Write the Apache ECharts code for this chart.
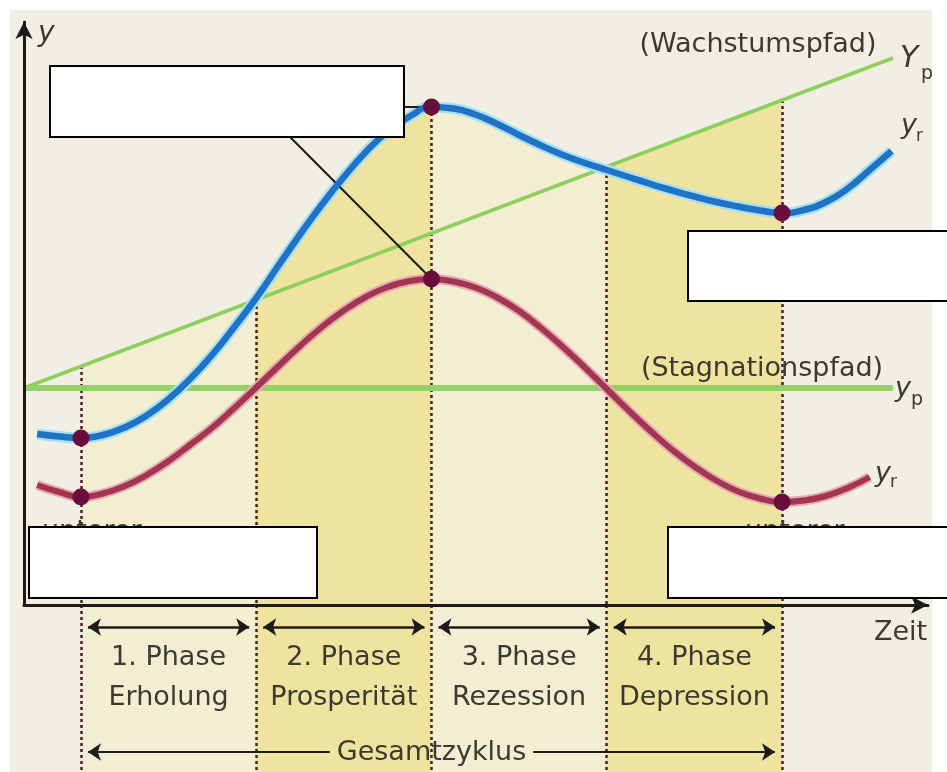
<!DOCTYPE html>
<html><head><meta charset="utf-8">
<script src="https://cdn.jsdelivr.net/npm/echarts@6/dist/echarts.min.js"></script>
<style>html,body{margin:0;padding:0;background:#fff}#c{width:947px;height:772px}</style>
</head><body><div id="c"></div>
<script>
// ---- data (time in phase units: turning points at t = 1..5) ----
const phaseBounds = [1, 2, 3, 4, 5];
const phaseTitles = ['1. Phase', '2. Phase', '3. Phase', '4. Phase'];
const phaseNames = ['Erholung', 'Prosperität', 'Rezession', 'Depression'];
const cycleLabel = 'Gesamtzyklus';
const timeLabel = 'Zeit';
const yLabel = 'y';
const troughLabel = 'unterer';
const growthPathLabel = '(Wachstumspfad)';
const stagnationPathLabel = '(Stagnationspfad)';

// time samples (every 1/8 phase)
const blueT = [0.75,0.875,1,1.125,1.25,1.375,1.5,1.625,1.75,1.875,2,2.125,2.25,2.375,2.5,2.625,2.75,2.875,3,
  3.125,3.25,3.375,3.5,3.625,3.75,3.875,4,4.125,4.25,4.375,4.5,4.625,4.75,4.875,5,5.125,5.25,5.375,5.5,5.625];
// real output along the growth path (blue)
const blueY = [34.2,33.7,33.4,34.0,35.5,37.9,41.2,45.3,50.1,55.6,61.4,67.8,74.1,80.1,85.6,90.6,94.7,97.7,99.6,
  99.3,98.1,96.2,94.0,91.9,90.0,88.4,87.0,85.6,84.2,82.9,81.7,80.6,79.7,78.9,78.4,79.0,80.6,83.3,87.0,90.8];
const redT = [0.75,0.875,1,1.125,1.25,1.375,1.5,1.625,1.75,1.875,2,2.125,2.25,2.375,2.5,2.625,2.75,2.875,3,
  3.125,3.25,3.375,3.5,3.625,3.75,3.875,4,4.125,4.25,4.375,4.5,4.625,4.75,4.875,5,5.125,5.25,5.375,5.5];
// real output along the stagnation path (red)
const redY = [24.0,22.6,21.6,22.3,23.8,26.0,28.8,32.1,35.5,39.4,43.5,47.7,51.8,55.6,58.9,61.6,63.6,64.8,65.2,
  64.7,63.5,61.5,58.8,55.4,51.6,47.5,43.2,38.9,34.8,31.0,27.7,24.9,22.7,21.3,20.6,20.9,21.8,23.4,25.6];
const pathT = [0.675, 5.633];
const growthPathY = [43.4, 109.4];
const stagnationPathY = [43.4, 43.4];
const turnT = [1, 3, 5];
const blueTurnY = [33.4, 99.6, 78.4];
const redTurnY = [21.6, 65.2, 20.6];
const dropTopY = [47.8, 61, 99.6, 87.2, 101];

// ---- styles ----
const C = {
  bg: '#f1efe3', strong: '#efe49f', light: '#f3eed2', clear: 'rgba(0,0,0,0)',
  green: '#8ccf5c', green2: '#94d267', blue: '#1f72c4', blueHalo: '#a6e0f5',
  red: '#a2354f', redHalo: '#e6a8b5', dot: '#6a0c3c', drop: '#4e1d25',
  ink: '#3a3a30', axis: '#1b1b1b'
};
const FONT = '"DejaVu Sans", sans-serif';
const zip = (a, b) => a.map((v, i) => [v, b[i]]);
const xMin = 0.675, xMax = 5.833;
const SM = 0.5;

const dropLines0 = phaseBounds.map((t, i) => [{coord: [t, dropTopY[i]]}, {coord: [t, 0]}]);
const dotStyle = {type: [3, 3], color: C.drop, width: 2.5};
const arrowY = 22, cycleY = 147, labelY = 73;
const lower = [];
phaseBounds.forEach(t => lower.push([{coord: [t, 0], symbol: 'none'}, {coord: [t, 167], symbol: 'none', lineStyle: dotStyle}]));
for (let i = 0; i < 4; i++) {
  lower.push([{coord: [phaseBounds[i] + 0.04, arrowY], symbol: 'arrow'}, {coord: [phaseBounds[i + 1] - 0.04, arrowY], symbol: 'arrow', lineStyle: {color: C.axis, width: 2.5, type: 'solid'}}]);
}
lower.push([{coord: [phaseBounds[0] + 0.04, cycleY], symbol: 'arrow'}, {coord: [2.42, cycleY], symbol: 'none', lineStyle: {color: C.axis, width: 2, type: 'solid'}}]);
lower.push([{coord: [3.58, cycleY], symbol: 'none'}, {coord: [phaseBounds[4] - 0.04, cycleY], symbol: 'arrow', lineStyle: {color: C.axis, width: 2, type: 'solid'}}]);

const bands = [];
for (let i = 0; i < 4; i++) {
  bands.push([{coord: [phaseBounds[i], 0], itemStyle: {color: i % 2 ? C.strong : C.light}}, {coord: [phaseBounds[i + 1], 167]}]);
}
const phaseLabelData = phaseTitles.map((s, i) => ({
  value: [(phaseBounds[i] + phaseBounds[i + 1]) / 2, labelY], name: s + '\n' + phaseNames[i]
}));
phaseLabelData.push({value: [(phaseBounds[0] + phaseBounds[4]) / 2, cycleY + 1], name: cycleLabel});

const txt = (text, x, y, size, align, italic) => ({
  type: 'text', z: 50, silent: true,
  style: {text, x, y, fill: C.ink, font: (italic ? 'italic ' : '') + size + 'px ' + FONT,
    align: align || 'left', textAlign: align || 'left', verticalAlign: 'middle', textVerticalAlign: 'middle'}
});
const box = (x, y, w, h) => ({type: 'rect', z: 100, silent: true, shape: {x, y, width: w, height: h},
  style: {fill: '#ffffff', stroke: '#000000', lineWidth: 2}});

const chart = echarts.init(document.getElementById('c'), null, {renderer: 'canvas'});
chart.setOption({
  animation: false,
  backgroundColor: '#ffffff',
  grid: [
    {left: 24, right: 19, top: 22, bottom: 167},
    {left: 24, right: 19, top: 605, bottom: 0}
  ],
  xAxis: [
    {type: 'value', gridIndex: 0, min: xMin, max: xMax, z: 10, splitLine: {show: false}, axisTick: {show: false}, axisLabel: {show: false},
     axisLine: {show: true, onZero: false, symbol: ['none', 'arrow'], symbolSize: [13, 17], lineStyle: {color: C.axis, width: 3}},
     name: timeLabel, nameLocation: 'end', nameGap: -54,
     nameTextStyle: {color: C.ink, fontSize: 27, fontFamily: FONT, verticalAlign: 'top', align: 'left', padding: [14, 0, 0, 0]}},
    {type: 'value', gridIndex: 1, min: xMin, max: xMax, show: false}
  ],
  yAxis: [
    {type: 'value', gridIndex: 0, min: 0, max: 116.6, z: 10, splitLine: {show: false}, axisTick: {show: false}, axisLabel: {show: false},
     axisLine: {show: true, onZero: false, symbol: ['none', 'arrow'], symbolSize: [13, 17], lineStyle: {color: C.axis, width: 3}},
     name: yLabel, nameLocation: 'end', nameGap: -12,
     nameTextStyle: {color: C.ink, fontSize: 28, fontStyle: 'italic', fontFamily: FONT, align: 'left', verticalAlign: 'middle', padding: [0, 0, 0, 14]}},
    {type: 'value', gridIndex: 1, min: 0, max: 167, inverse: true, show: false}
  ],
  visualMap: [
    {type: 'piecewise', show: false, seriesIndex: 0, dimension: 0,
     pieces: [{gte: 2, lt: 3, color: C.strong}, {gte: 3, lte: 4, color: C.light}], outOfRange: {color: C.clear}},
    {type: 'piecewise', show: false, seriesIndex: 1, dimension: 0,
     pieces: [{gte: 1, lt: 2, color: C.light}, {gte: 4, lte: 5, color: C.strong}], outOfRange: {color: C.clear}}
  ],
  series: [
    {type: 'line', name: 'fillReal', z: 1, silent: true, smooth: SM, symbol: 'none', data: zip(blueT, blueY),
     lineStyle: {width: 0}, areaStyle: {opacity: 1, origin: 'start'}},
    {type: 'line', name: 'fillPath', z: 1, silent: true, symbol: 'none', data: zip(pathT, growthPathY),
     lineStyle: {width: 0}, areaStyle: {opacity: 1, origin: 'start'}},
    {type: 'line', name: 'Wachstumspfad', z: 3, silent: true, symbol: 'none', data: zip(pathT, growthPathY),
     lineStyle: {color: C.green, width: 3.5},
     markLine: {silent: true, symbol: ['none', 'none'], label: {show: false}, lineStyle: dotStyle, data: dropLines0, z: 3}},
    {type: 'line', name: 'Stagnationspfad', z: 3, silent: true, symbol: 'none', data: zip(pathT, stagnationPathY),
     lineStyle: {color: C.green2, width: 6}},
    {type: 'line', z: 4, silent: true, smooth: SM, symbol: 'none', data: zip(blueT, blueY), lineStyle: {color: C.blueHalo, width: 11}},
    {type: 'line', name: 'yr Wachstum', z: 5, silent: true, smooth: SM, symbol: 'none', data: zip(blueT, blueY), lineStyle: {color: C.blue, width: 6.5}},
    {type: 'line', z: 4, silent: true, smooth: SM, symbol: 'none', data: zip(redT, redY), lineStyle: {color: C.redHalo, width: 10}},
    {type: 'line', name: 'yr Stagnation', z: 5, silent: true, smooth: SM, symbol: 'none', data: zip(redT, redY), lineStyle: {color: C.red, width: 6}},
    {type: 'scatter', z: 6, silent: true, symbolSize: 17, itemStyle: {color: C.dot, opacity: 1},
     data: zip(turnT, blueTurnY).concat(zip(turnT, redTurnY)),
     markLine: {silent: true, symbol: ['none', 'none'], label: {show: false}, lineStyle: {color: '#1a1a1a', width: 2, type: 'solid'},
       data: [[{coord: [2.193, 93.6]}, {coord: [turnT[1], redTurnY[1]]}], [{coord: [2.843, blueTurnY[1]]}, {coord: [turnT[1], blueTurnY[1]]}]]}},
    {type: 'scatter', xAxisIndex: 1, yAxisIndex: 1, z: 5, silent: true, symbolSize: 1, itemStyle: {color: C.clear, opacity: 1},
     data: phaseLabelData,
     label: {show: true, position: 'inside', formatter: p => p.name, color: C.ink, fontSize: 27, fontFamily: FONT, lineHeight: 40},
     markArea: {silent: true, z: 1, data: bands},
     markLine: {silent: true, symbolSize: 13, label: {show: false}, lineStyle: dotStyle, data: lower}}
  ],
  graphic: [
    {type: 'rect', z: -100, silent: true, shape: {x: 10, y: 10, width: 922, height: 770}, style: {fill: C.bg}},
    txt(growthPathLabel, 758, 45, 27, 'center'),
    txt(stagnationPathLabel, 762, 369, 27, 'center'),
    txt('Y', 900, 59, 30, 'left', true),
    txt('p', 921, 74, 19, 'left'),
    txt('y', 901, 126, 27, 'left', true),
    txt('r', 916, 137, 17, 'left'),
    txt('y', 895, 389, 27, 'left', true),
    txt('p', 911, 400, 19, 'left'),
    txt('y', 875, 474, 27, 'left', true),
    txt('r', 890, 483, 17, 'left'),
    txt(troughLabel, 42, 532, 27, 'left'),
    txt(troughLabel, 745, 532, 27, 'left'),
    box(50, 66, 354, 71),
    box(688, 231, 270, 70),
    box(29, 527, 288, 71),
    box(668, 527, 290, 71)
  ]
});
</script></body></html>
